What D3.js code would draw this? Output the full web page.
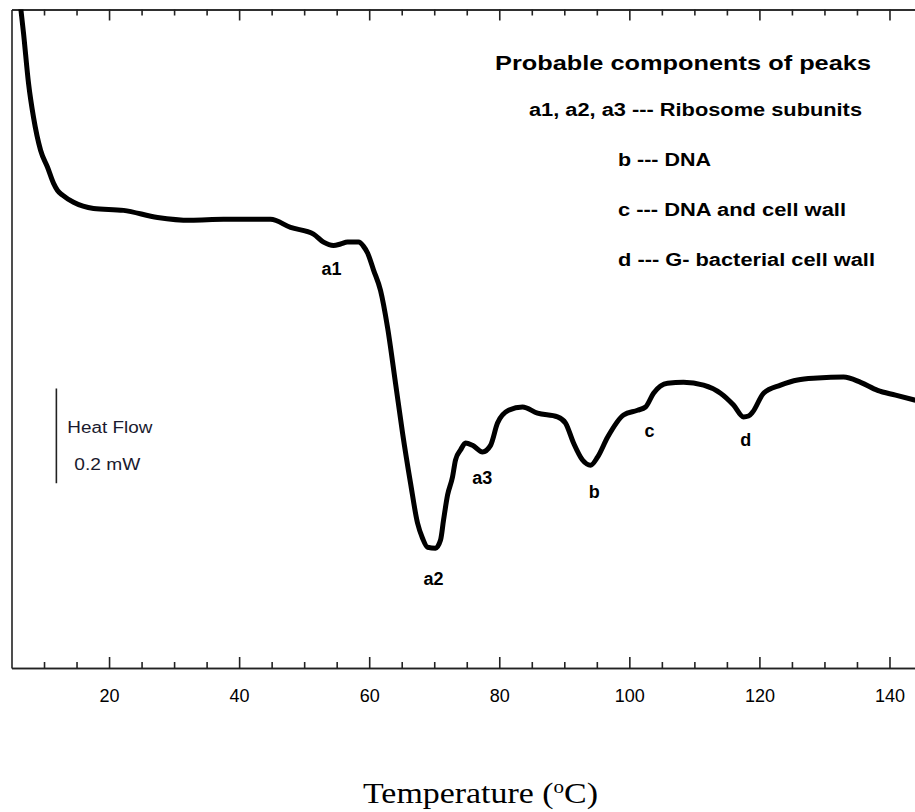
<!DOCTYPE html>
<html>
<head>
<meta charset="utf-8">
<script src="https://cdn.jsdelivr.net/npm/d3@7"></script>
<style>
  body { margin: 0; background: #fff; }
  svg { display: block; }
</style>
</head>
<body>
<div id="container"></div>
<script>
/* CONSTANTS AND GLOBALS */
const width = 915;
const height = 812;

// DSC trace: temperature (°C) and heat flow (mW, arbitrary offset)
const temperature = [6.2, 6.85, 7.62, 8.39, 9.47, 10.54, 11.47, 12.08, 12.85, 14.54, 17.62, 22.23, 27.46, 32.53,
  37.6, 44.83, 47.91, 51.44, 52.98, 54.52, 55.6, 56.67, 58.36, 59.13, 59.75, 60.67, 61.74, 62.82, 64.05,
  65.13, 66.36, 67.43, 68.2, 68.97, 70.2, 70.97, 71.43, 72.05, 72.81, 73.27, 74.04, 74.81, 75.89, 77.43,
  78.66, 79.73, 81.43, 83.58, 85.88, 88.96, 90.19, 91.42, 92.8, 94.03, 95.11, 96.65, 99.11, 101.26,
  102.49, 103.72, 105.87, 108.33, 111.41, 114.02, 116.02, 117.56, 118.33, 118.95, 120.64, 123.25,
  125.87, 128.94, 132.94, 135.56, 138.17, 140.94, 144.0];
const heatFlow = [1.42, 1.34, 1.234, 1.162, 1.093, 1.057, 1.023, 1.008, 0.998, 0.983, 0.97, 0.966, 0.951, 0.945,
  0.947, 0.947, 0.93, 0.916, 0.899, 0.892, 0.895, 0.899, 0.899, 0.89, 0.876, 0.84, 0.797, 0.719, 0.601,
  0.496, 0.39, 0.306, 0.274, 0.255, 0.253, 0.27, 0.312, 0.365, 0.403, 0.439, 0.46, 0.475, 0.47, 0.456,
  0.47, 0.517, 0.544, 0.551, 0.538, 0.53, 0.517, 0.475, 0.439, 0.428, 0.445, 0.487, 0.534, 0.544,
  0.551, 0.58, 0.601, 0.603, 0.597, 0.58, 0.555, 0.53, 0.532, 0.54, 0.58, 0.597,
  0.608, 0.612, 0.614, 0.603, 0.586, 0.576, 0.565];

// peak labels and where they sit
const peakNames = ["a1", "a2", "a3", "b", "c", "d"];
const peakTemp = [54.2, 69.9, 77.4, 94.6, 103.1, 117.9];
const peakFlow = [0.829, 0.176, 0.388, 0.358, 0.487, 0.469];

const legendTitle = "Probable components of peaks";
const legendItems = ["a1, a2, a3 --- Ribosome subunits", "b --- DNA", "c --- DNA and cell wall", "d --- G- bacterial cell wall"];

const majorTicks = [20, 40, 60, 80, 100, 120, 140];
const minorTicks = [10, 15, 25, 30, 35, 45, 50, 55, 65, 70, 75, 85, 90, 95, 105, 110, 115, 125, 130, 135, 145];

// scale bar: 0.2 mW
const barTemp = 11.9;
const barFlow = [0.39, 0.59];

const svg = d3.select("#container")
  .append("svg")
  .attr("width", width)
  .attr("height", height)
  .style("font-family", "'Liberation Sans', Arial, sans-serif")

const xScale = d3.scaleLinear()
  .domain([5, 145])
  .range([11.5, 922])

const yScale = d3.scaleLinear()
  .domain([0, 1.39])
  .range([668, 9.5])

svg.append("clipPath")
  .attr("id", "plot-clip")
  .append("rect")
  .attr("x", xScale(5))
  .attr("y", yScale(1.39))
  .attr("width", xScale(145) - xScale(5))
  .attr("height", yScale(0) - yScale(1.39))

// bottom axis, ticks pointing inward
const xAxisMinor = d3.axisBottom(xScale).tickValues(minorTicks).tickSizeInner(-6).tickSizeOuter(0).tickFormat("")
const xAxis = d3.axisBottom(xScale).tickValues(majorTicks).tickSizeInner(-11).tickSizeOuter(0).tickPadding(21)

svg.append("g")
  .attr("transform", `translate(0, ${yScale(0)})`)
  .call(xAxisMinor)
svg.append("g")
  .attr("class", "x-axis")
  .attr("transform", `translate(0, ${yScale(0)})`)
  .call(xAxis)

// top axis, no labels
svg.append("g")
  .attr("transform", `translate(0, ${yScale(1.39)})`)
  .call(d3.axisTop(xScale).tickValues(minorTicks).tickSizeInner(-6).tickSizeOuter(0).tickFormat(""))
svg.append("g")
  .attr("transform", `translate(0, ${yScale(1.39)})`)
  .call(d3.axisTop(xScale).tickValues(majorTicks).tickSizeInner(-11).tickSizeOuter(0).tickFormat(""))

// left spine
svg.append("g")
  .attr("transform", `translate(${xScale(5)}, 0)`)
  .call(d3.axisLeft(yScale).tickValues([]).tickSizeOuter(0))

svg.selectAll(".domain, .tick line")
  .attr("stroke", "#222")
  .attr("stroke-width", 1.6)

svg.selectAll(".x-axis text")
  .attr("font-size", 18)
  .attr("fill", "#000")

// the trace
const line = d3.line()
  .x((d, i) => xScale(temperature[i]))
  .y(d => yScale(d))
  .curve(d3.curveMonotoneX)

svg.append("path")
  .datum(heatFlow)
  .attr("clip-path", "url(#plot-clip)")
  .attr("fill", "none")
  .attr("stroke", "#000")
  .attr("stroke-width", 5)
  .attr("stroke-linejoin", "round")
  .attr("d", line)

// peak labels
svg.selectAll(".peak")
  .data(peakNames)
  .join("text")
  .attr("class", "peak")
  .attr("x", (d, i) => xScale(peakTemp[i]))
  .attr("y", (d, i) => yScale(peakFlow[i]))
  .attr("text-anchor", "middle")
  .attr("font-size", 18)
  .attr("font-weight", "bold")
  .text(d => d)

// legend box text
svg.append("text")
  .attr("x", 495)
  .attr("y", 70)
  .attr("font-size", 21)
  .attr("font-weight", "bold")
  .attr("textLength", 376)
  .attr("lengthAdjust", "spacingAndGlyphs")
  .text(legendTitle)

const itemX = [529, 618, 618, 618];
const itemW = [333, 93, 228, 257];
svg.selectAll(".legend-item")
  .data(legendItems)
  .join("text")
  .attr("class", "legend-item")
  .attr("x", (d, i) => itemX[i])
  .attr("y", (d, i) => 116 + i * 50)
  .attr("font-size", 18)
  .attr("font-weight", "bold")
  .attr("textLength", (d, i) => itemW[i])
  .attr("lengthAdjust", "spacingAndGlyphs")
  .text(d => d)

// scale bar
svg.append("line")
  .attr("x1", xScale(barTemp))
  .attr("x2", xScale(barTemp))
  .attr("y1", yScale(barFlow[0]))
  .attr("y2", yScale(barFlow[1]))
  .attr("stroke", "#222")
  .attr("stroke-width", 1.6)

svg.append("text")
  .attr("x", xScale(barTemp) + 11)
  .attr("y", yScale(0.497))
  .attr("font-size", 16)
  .attr("fill", "#1a1a2e")
  .attr("textLength", 85)
  .attr("lengthAdjust", "spacingAndGlyphs")
  .text("Heat Flow")

svg.append("text")
  .attr("x", xScale(barTemp) + 18)
  .attr("y", yScale(0.418))
  .attr("font-size", 16)
  .attr("fill", "#1a1a2e")
  .attr("textLength", 66)
  .attr("lengthAdjust", "spacingAndGlyphs")
  .text("0.2 mW")

// x axis title
const xTitle = svg.append("text")
  .attr("x", 363)
  .attr("y", 803)
  .attr("font-family", "'Liberation Serif', 'Times New Roman', serif")
  .attr("font-size", 29)
  .attr("textLength", 235)
  .attr("lengthAdjust", "spacingAndGlyphs")
xTitle.append("tspan").text("Temperature (")
xTitle.append("tspan").attr("font-size", 18).attr("dy", -10).text("o")
xTitle.append("tspan").attr("dy", 10).text("C)")
</script>
</body>
</html>
